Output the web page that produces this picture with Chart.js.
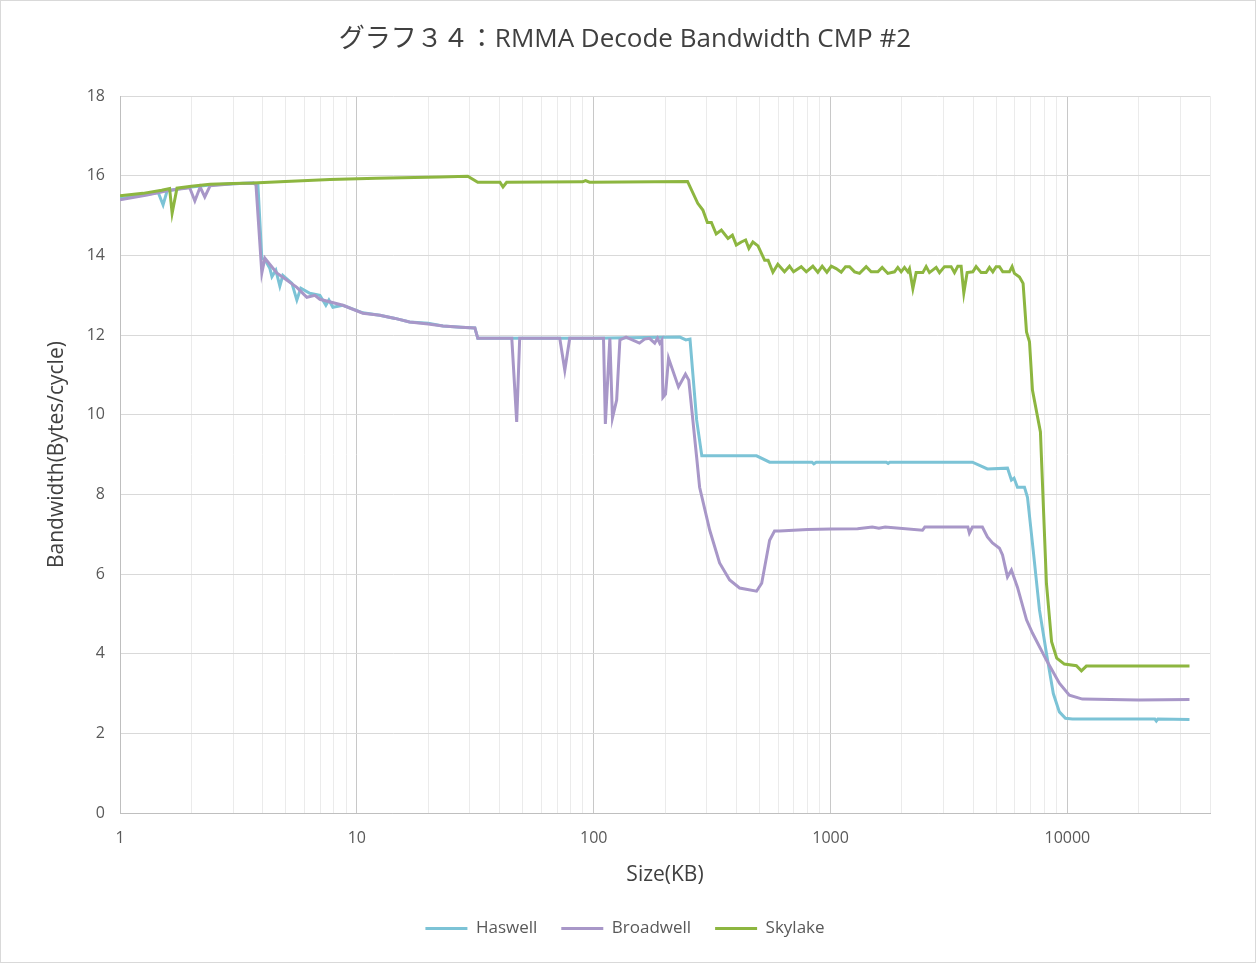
<!DOCTYPE html>
<html>
<head>
<meta charset="utf-8">
<script src="https://cdn.jsdelivr.net/npm/chart.js@4.4.1/dist/chart.umd.min.js"></script>
<style>
  html, body { margin: 0; padding: 0; background: #fff; }
</style>
</head>
<body>
<canvas id="bwChart" width="1256" height="963"></canvas>
<script>
// Size (KB) and bandwidth (Bytes/cycle) for each CPU
const haswellSize = [
    1, 1.2, 1.45, 1.52, 1.58, 1.75, 2, 2.4, 3, 3.64,
    3.82, 3.97, 4.09, 4.29, 4.38, 4.55, 4.73, 4.87, 5.32, 5.58,
    5.8, 6.33, 6.98, 7.4, 7.62, 7.92, 8.73, 10.6, 12.5, 14.5,
    16.7, 20, 23.1, 27.5, 31.5, 32.4, 100, 231, 245, 255,
    272, 286, 487, 553, 835, 850, 870, 1721, 1750, 1780,
    3972, 4595, 5585, 5803, 5950, 6153, 6589, 6783, 7170, 7621,
    8153, 8720, 9247, 9811, 10500, 23400, 23740, 24100, 32768
];
const haswellBw = [
    15.43, 15.5, 15.58, 15.27, 15.62, 15.67, 15.72, 15.77, 15.8, 15.82,
    15.8, 13.93, 13.9, 13.68, 13.47, 13.63, 13.23, 13.5, 13.3, 12.88,
    13.18, 13.05, 13.0, 12.75, 12.88, 12.7, 12.75, 12.56, 12.5, 12.42,
    12.33, 12.3, 12.23, 12.2, 12.18, 11.92, 11.92, 11.95, 11.88, 11.9,
    9.87, 8.97, 8.97, 8.81, 8.81, 8.77, 8.81, 8.81, 8.78, 8.81,
    8.81, 8.64, 8.66, 8.36, 8.41, 8.18, 8.18, 7.93, 6.6, 5.1,
    4.02, 3.0, 2.54, 2.38, 2.36, 2.36, 2.31, 2.36, 2.35
];

const broadwellSize = [
    1, 1.3, 1.62, 1.97, 2.07, 2.18, 2.28, 2.4, 3, 3.64,
    3.75, 3.97, 4.09, 4.59, 5.58, 6.15, 6.65, 6.98, 8.73, 10.6,
    12.5, 14.5, 16.7, 20, 23.1, 27.5, 31.5, 32.4, 45.1, 47.3,
    48.7, 71.9, 75.5, 79.2, 110, 112, 117, 120, 125, 129,
    137, 156, 164, 172, 181, 186, 190, 194, 196, 201,
    207, 228, 244, 252, 272, 280, 309, 340, 375, 413,
    487, 512, 553, 580, 609, 800, 1000, 1300, 1500, 1600,
    1700, 2444, 2500, 3800, 3857, 3972, 4375, 4595, 4827, 5166,
    5322, 5585, 5803, 6153, 6720, 7119, 8153, 9247, 10190, 11568,
    20000, 32768
];
const broadwellBw = [
    15.4, 15.52, 15.64, 15.7, 15.37, 15.72, 15.47, 15.75, 15.8, 15.82,
    15.78, 13.56, 13.93, 13.56, 13.2, 12.95, 13.0, 12.9, 12.75, 12.55,
    12.5, 12.42, 12.33, 12.28, 12.23, 12.2, 12.18, 11.92, 11.92, 9.82,
    11.92, 11.92, 11.12, 11.92, 11.92, 9.77, 11.92, 9.92, 10.37, 11.88,
    11.95, 11.8, 11.9, 11.92, 11.8, 11.92, 11.8, 11.88, 10.44, 10.52,
    11.42, 10.7, 11.02, 10.87, 8.94, 8.18, 7.1, 6.28, 5.85, 5.65,
    5.57, 5.77, 6.85, 7.08, 7.08, 7.12, 7.13, 7.14, 7.18, 7.15,
    7.18, 7.1, 7.18, 7.18, 7.03, 7.18, 7.18, 6.93, 6.78, 6.65,
    6.48, 5.93, 6.1, 5.67, 4.85, 4.52, 3.84, 3.26, 2.96, 2.86,
    2.84, 2.85
];

const skylakeSize = [
    1, 1.25, 1.5, 1.62, 1.66, 1.74, 2, 2.4, 3, 3.64,
    5, 7.7, 12.1, 22.4, 29.4, 32.4, 40.2, 41.4, 42.9, 89.8,
    92.4, 96, 249, 275, 289, 302, 314, 329, 346, 369,
    385, 400, 420, 438, 452, 470, 494, 527, 545, 571,
    599, 639, 671, 698, 752, 790, 842, 884, 922, 965,
    1007, 1056, 1109, 1157, 1203, 1263, 1326, 1414, 1484, 1584,
    1652, 1745, 1862, 1923, 1987, 2052, 2120, 2154, 2226, 2298,
    2452, 2533, 2616, 2792, 2884, 3027, 3229, 3336, 3445, 3559,
    3653, 3773, 3987, 4117, 4323, 4538, 4688, 4842, 5000, 5166,
    5335, 5692, 5841, 5975, 6276, 6500, 6720, 6918, 7119, 7693,
    8155, 8575, 9015, 9709, 10914, 11460, 12023, 32768
];
const skylakeBw = [
    15.5, 15.56, 15.64, 15.68, 15.06, 15.69, 15.74, 15.79, 15.81, 15.82,
    15.86, 15.91, 15.94, 15.97, 15.99, 15.84, 15.84, 15.72, 15.84, 15.85,
    15.88, 15.84, 15.86, 15.31, 15.14, 14.83, 14.83, 14.54, 14.64, 14.43,
    14.51, 14.26, 14.34, 14.39, 14.18, 14.34, 14.24, 13.88, 13.88, 13.58,
    13.78, 13.59, 13.73, 13.59, 13.72, 13.59, 13.73, 13.58, 13.73, 13.58,
    13.73, 13.67, 13.58, 13.72, 13.72, 13.59, 13.55, 13.72, 13.59, 13.59,
    13.7, 13.55, 13.59, 13.7, 13.59, 13.7, 13.59, 13.67, 13.17, 13.57,
    13.57, 13.72, 13.57, 13.7, 13.57, 13.72, 13.72, 13.57, 13.73, 13.73,
    13.06, 13.57, 13.59, 13.72, 13.57, 13.57, 13.7, 13.59, 13.72, 13.72,
    13.59, 13.59, 13.72, 13.55, 13.46, 13.3, 12.08, 11.83, 10.62, 9.57,
    5.77, 4.3, 3.89, 3.74, 3.7, 3.57, 3.69, 3.69
];

const xMin = 1;
const xMax = 40000;

const fontFamily = '"Open Sans", "Noto Sans CJK JP", sans-serif';

function toPoints(xs, ys) {
    return xs.map((x, i) => ({ x: x, y: ys[i] }));
}

function isPow10(v) {
    const l = Math.log10(v);
    return Math.abs(l - Math.round(l)) < 1e-9;
}

// white background and thin frame like the Excel chart area
const framePlugin = {
    id: 'frame',
    beforeDraw(chart) {
        const c = chart.ctx;
        c.save();
        c.fillStyle = '#ffffff';
        c.fillRect(0, 0, chart.width, chart.height);
        c.restore();
    },
    afterDraw(chart) {
        const c = chart.ctx;
        c.save();
        c.strokeStyle = '#d9d9d9';
        c.lineWidth = 1;
        c.strokeRect(0.5, 0.5, chart.width - 1, chart.height - 1);
        c.restore();
    }
};

function makeDataset(label, xs, ys, color, order) {
    return {
        label: label,
        data: toPoints(xs, ys),
        borderColor: color,
        backgroundColor: color,
        borderWidth: 3,
        pointRadius: 0,
        pointHoverRadius: 0,
        tension: 0,
        fill: false,
        order: order
    };
}

const ctx = document.getElementById('bwChart').getContext('2d');
const chart = new Chart(ctx, {
    type: 'line',
    data: {
        datasets: [
            makeDataset('Haswell', haswellSize, haswellBw, '#7cc3d6', 2),
            makeDataset('Broadwell', broadwellSize, broadwellBw, '#a897c8', 1),
            makeDataset('Skylake', skylakeSize, skylakeBw, '#8db640', 0)
        ]
    },
    options: {
        responsive: false,
        animation: false,
        layout: {
            padding: { left: 40, right: 46, top: 0, bottom: 16 }
        },
        scales: {
            x: {
                type: 'logarithmic',
                min: xMin,
                max: xMax,
                afterBuildTicks: (scale) => {
                    const t = [];
                    for (let p = 1; p <= 10000; p *= 10) {
                        for (let m = 1; m <= 9; m++) {
                            if (m * p <= xMax) t.push({ value: m * p });
                        }
                    }
                    scale.ticks = t;
                },
                afterFit: (scale) => { scale.height = 83; },
                ticks: {
                    autoSkip: false,
                    maxRotation: 0,
                    minRotation: 0,
                    padding: 16,
                    color: '#595959',
                    font: { family: fontFamily, size: 16 },
                    callback: (v) => isPow10(v) ? String(v) : ''
                },
                grid: {
                    drawTicks: false,
                    color: (c) => (c.tick && isPow10(c.tick.value)) ? '#c8c8c8' : '#ebebeb',
                    lineWidth: 1
                },
                border: { color: '#bfbfbf' },
                title: {
                    display: true,
                    text: 'Size(KB)',
                    color: '#404040',
                    padding: { top: 0, bottom: 8 },
                    font: { family: fontFamily, size: 21 }
                }
            },
            y: {
                min: 0,
                max: 18,
                afterFit: (scale) => { scale.width = 80; },
                ticks: {
                    stepSize: 2,
                    padding: 15,
                    color: '#595959',
                    font: { family: fontFamily, size: 16 }
                },
                grid: {
                    drawTicks: false,
                    color: '#d9d9d9'
                },
                border: { color: '#bfbfbf' },
                title: {
                    display: true,
                    text: 'Bandwidth(Bytes/cycle)',
                    color: '#404040',
                    padding: { top: 4, bottom: 0 },
                    font: { family: fontFamily, size: 21 }
                }
            }
        },
        plugins: {
            title: {
                display: true,
                text: 'グラフ３４：RMMA Decode Bandwidth CMP #2',
                color: '#404040',
                padding: { top: 24, bottom: 41 },
                font: { family: fontFamily, size: 26, weight: 'normal' }
            },
            legend: {
                position: 'bottom',
                labels: {
                    usePointStyle: true,
                    pointStyle: 'line',
                    pointStyleWidth: 42,
                    padding: 24,
                    color: '#595959',
                    font: { family: fontFamily, size: 17 },
                    sort: (a, b) => a.datasetIndex - b.datasetIndex
                }
            },
            tooltip: { enabled: false }
        }
    },
    plugins: [framePlugin]
});
</script>
</body>
</html>
